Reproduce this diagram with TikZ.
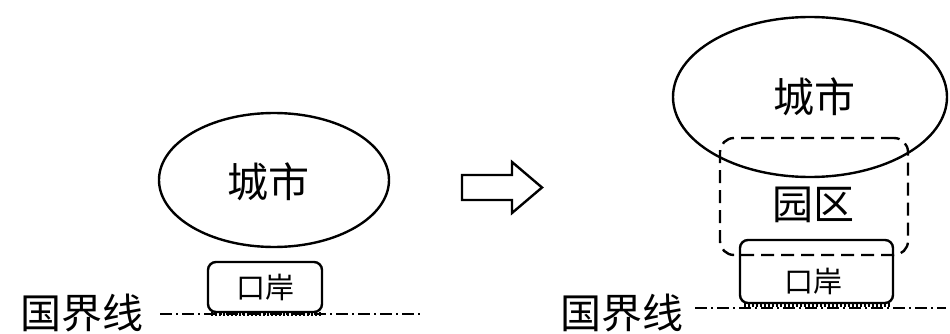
\documentclass[tikz,border=0pt]{standalone}
\usepackage{fontspec}
\newfontfamily\cjk{Noto Sans CJK SC}
\usetikzlibrary{shapes.geometric}
\tikzset{
  line/.style={line width=2.4pt, black},
  city/.style={line, draw, ellipse, inner sep=0pt},
  portbox/.style={line, draw, rounded corners=8pt, inner sep=0pt},
  parkbox/.style={line, draw, dash pattern=on 13pt off 7pt, rounded corners=14pt, inner sep=0pt},
  border/.style={line width=1.8pt, dash pattern=on 12pt off 4pt on 2pt off 4pt},
  bigtxt/.style={font=\cjk\fontsize{41}{44}\selectfont, inner sep=0pt},
  smalltxt/.style={font=\cjk\fontsize{29}{32}\selectfont, inner sep=0pt},
}
\begin{document}
\begin{tikzpicture}[x=1pt,y=-1pt]
\useasboundingbox (0,0) rectangle (950,334);
\fill[white] (0,0) rectangle (950,334);

% ---------- left panel ----------
\node[city, minimum width=230pt, minimum height=134pt] (cityL) at (274,180) {};
\node[bigtxt] (cityLt) at (268,182) {城市};
\node[portbox, minimum width=114pt, minimum height=50pt] (portL) at (265,287) {};
\node[smalltxt] (portLt) at (265,287) {口岸};
\node[bigtxt, anchor=center] (borderLt) at (82,313) {国界线};
\coordinate (bL1) at (160,314);
\coordinate (bL2) at (420,314);
\draw[border] (bL1) -- (bL2);
\foreach \x in {212,216,...,320} \draw[line width=1.2pt] (\x,312) -- (\x,316);

% ---------- arrow ----------
\draw[line, line join=miter] (462,175) -- (512,175) -- (512,162) -- (542,187.5) -- (512,213) -- (512,200) -- (462,200) -- cycle;

% ---------- right panel ----------
\node[city, minimum width=274pt, minimum height=160pt] (cityR) at (810,97) {};
\node[bigtxt] (cityRt) at (814,97) {城市};
\node[parkbox, minimum width=188pt, minimum height=117pt] (park) at (814,196.5) {};
\node[bigtxt] (parkt) at (813,205) {园区};
\node[portbox, minimum width=153pt, minimum height=63pt] (portR) at (816.5,271.5) {};
\node[smalltxt] (portRt) at (813,281) {口岸};
\node[bigtxt, anchor=center] (borderRt) at (622,313) {国界线};
\coordinate (bR1) at (695,308);
\coordinate (bR2) at (946,308);
\draw[border] (bR1) -- (bR2);
\foreach \x in {745,749,...,889} \draw[line width=1.2pt] (\x,303) -- (\x,307);
\end{tikzpicture}
\end{document}
